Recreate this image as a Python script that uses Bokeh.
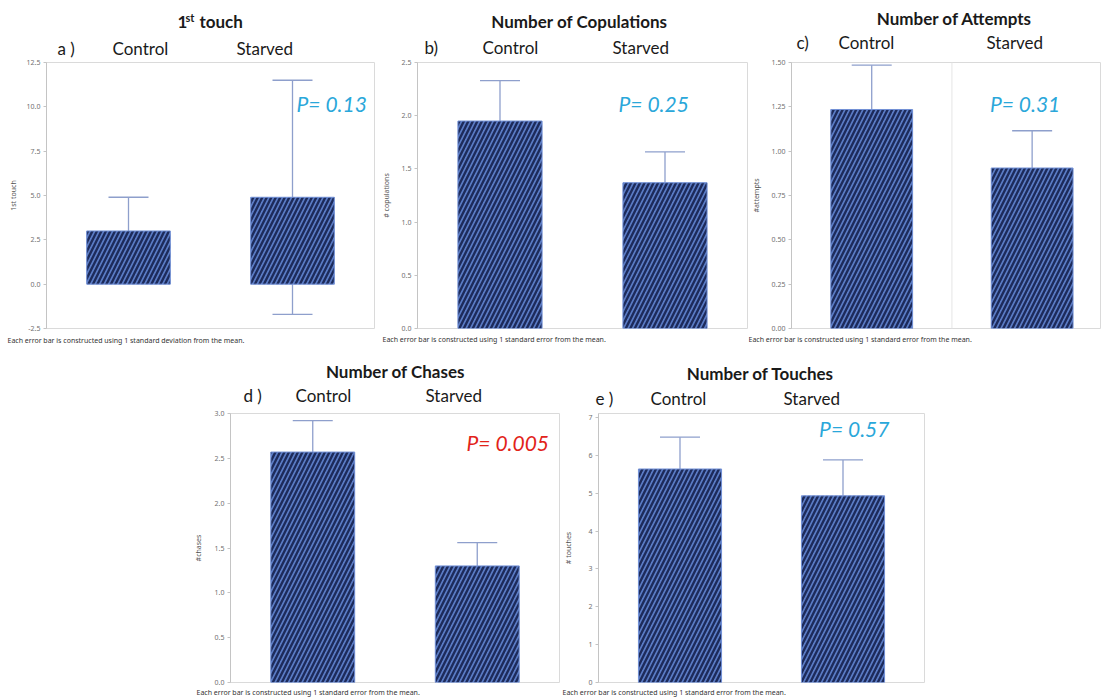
import math
from bokeh.plotting import figure
from bokeh.models import (ColumnDataSource, Range1d, FixedTicker, Label, Whisker,
                          TeeHead, Span, Spacer, PrintfTickFormatter)
from bokeh.layouts import row, column
from bokeh.embed import file_html
from bokeh.resources import INLINE

# ---------------- data ----------------
categories = ["Control", "Starved"]

first_touch_mean = [3.0, 4.9]
first_touch_err = [1.9, 6.6]      # 1 SD
copulations_mean = [1.95, 1.37]
copulations_err = [0.38, 0.29]    # 1 SE
attempts_mean = [1.235, 0.905]
attempts_err = [0.25, 0.21]
chases_mean = [2.57, 1.30]
chases_err = [0.35, 0.26]
touches_mean = [5.64, 4.93]
touches_err = [0.84, 0.95]

ticks_a = [-2.5, 0.0, 2.5, 5.0, 7.5, 10.0, 12.5]
ticks_b = [0.0, 0.5, 1.0, 1.5, 2.0, 2.5]
ticks_c = [0.0, 0.25, 0.5, 0.75, 1.0, 1.25, 1.5]
ticks_d = [0.0, 0.5, 1.0, 1.5, 2.0, 2.5, 3.0]
ticks_e = [0, 1, 2, 3, 4, 5, 6, 7]

titles = ["1st touch", "Number of Copulations", "Number of Attempts",
          "Number of Chases", "Number of Touches"]
panel_letters = ["a )", "b)", "c)", "d )", "e )"]
y_labels = ["1st touch", "# copulations", "#attempts", "#chases", "# touches"]
p_values = ["P= 0.13", "P= 0.25", "P= 0.31", "P= 0.005", "P= 0.57"]
foot_sd = "Each error bar is constructed using 1 standard deviation from the mean."
foot_se = "Each error bar is constructed using 1 standard error from the mean."

# ---------------- style ----------------
LABEL_FONT = "Lato"
SMALL_FONT = "Noto Sans"
BAR_FILL = "#5b7cc6"
BAR_HATCH = "#1d2b5b"
ERR_COLOR = "#8e9fcc"
CYAN = "#2aa7da"
RED = "#e2231a"
TXT = "#1a1a1a"


def text_fig(x0, x1, y0, y1, items):
    """A text-only strip covering page pixels x0..x1, y0..y1 (y grows downward;
    stored negated so that the range is increasing)."""
    p = figure(width=x1 - x0, height=y1 - y0, x_range=Range1d(x0, x1),
               y_range=Range1d(-y1, -y0), output_backend="svg", toolbar_location=None,
               min_border_left=0, min_border_right=0, min_border_top=0,
               min_border_bottom=0)
    p.axis.visible = False
    p.grid.visible = False
    p.outline_line_color = None
    p.background_fill_color = "white"
    p.border_fill_color = "white"
    for (px, py, text, font, size, style, color, align) in items:
        p.add_layout(Label(x=px, y=-py, text=text, text_font=font, text_font_size=size,
                           text_font_style=style, text_color=color, text_align=align,
                           text_baseline="middle"))
    return p


def chart_fig(x0, x1, y0, y1, frame, yr, x_end, ticks, fmt, means, errs,
              ylab, ylab_standoff, ptext, pxy, pcolor):
    fl, ft, fr, fb = frame
    p = figure(width=x1 - x0, height=y1 - y0, x_range=Range1d(0, x_end),
               y_range=Range1d(*yr), output_backend="svg", toolbar_location=None,
               min_border_left=fl - x0, min_border_right=x1 - fr,
               min_border_top=ft - y0, min_border_bottom=y1 - fb)
    p.background_fill_color = "white"
    p.border_fill_color = "white"
    p.outline_line_color = "#dadada"
    p.xaxis.visible = False
    p.xgrid.visible = False
    p.ygrid.visible = False
    ax = p.yaxis[0]
    ax.ticker = FixedTicker(ticks=ticks)
    ax.formatter = PrintfTickFormatter(format=fmt)
    ax.minor_tick_line_color = None
    ax.major_tick_out = 3
    ax.major_tick_in = 0
    ax.major_tick_line_color = "#c4c4c4"
    ax.axis_line_color = "#c4c4c4"
    ax.major_label_standoff = 3
    ax.major_label_text_font = SMALL_FONT
    ax.major_label_text_font_size = "7px"
    ax.major_label_text_color = "#707070"
    ax.axis_label = ylab
    ax.axis_label_text_font = SMALL_FONT
    ax.axis_label_text_font_size = "7px"
    ax.axis_label_text_font_style = "normal"
    ax.axis_label_text_color = "#555555"
    ax.axis_label_standoff = ylab_standoff

    def dx(px):
        return (px - fl) / (fr - fl) * x_end

    def dy(py):
        return yr[0] + (fb - py) / (fb - ft) * (yr[1] - yr[0])

    xs = [i + 0.5 for i in range(len(categories))]
    src = ColumnDataSource(dict(
        x=xs, cat=categories, top=means,
        upper=[m + e for m, e in zip(means, errs)],
        lower=[m - e for m, e in zip(means, errs)]))

    wk = Whisker(base="x", upper="upper", lower="lower", source=src, level="underlay",
                 line_color=ERR_COLOR, line_width=1.3,
                 upper_head=TeeHead(size=40, line_color=ERR_COLOR, line_width=1.3),
                 lower_head=TeeHead(size=40, line_color=ERR_COLOR, line_width=1.3))
    p.add_layout(wk)

    p.vbar(x="x", top="top", bottom=0, width=0.51, source=src,
           fill_color=BAR_FILL, line_color="#7391d6", line_width=1,
           hatch_pattern="/", hatch_color=BAR_HATCH, hatch_weight=2.4, hatch_scale=9)

    p.add_layout(Label(x=dx(pxy[0]), y=dy(pxy[1]), text=ptext, text_font=LABEL_FONT,
                       text_font_size="21px", text_font_style="italic",
                       text_color=pcolor, text_align="left", text_baseline="middle"))
    return p


def head_items(title, title_cx, title_cy, letter, lx, cx, sx, cat_cy):
    items = []
    if title is not None:
        items.append((title_cx, title_cy, title, LABEL_FONT, "17px", "bold", TXT,
                      "center"))
    items.append((lx, cat_cy, letter, LABEL_FONT, "17px", "normal", TXT, "left"))
    items.append((cx, cat_cy, categories[0], LABEL_FONT, "17px", "normal", TXT, "left"))
    items.append((sx, cat_cy, categories[1], LABEL_FONT, "17px", "normal", TXT, "left"))
    return items


def foot_items(x, y, text):
    return [(x, y, text, SMALL_FONT, "7px", "normal", "#333333", "left")]


# ---------------- top row: y 0..350 ----------------
H0, H1, C1, F1 = 0, 58, 334, 350
FR_T, FR_B = 62, 328
XA, XB, XC, XEND = 0, 375, 748, 1101

ha = head_items(None, 0, 0, panel_letters[0], 57, 112, 236, 47.5)
ha += [(177, 21, "1", LABEL_FONT, "17px", "bold", TXT, "left"),
       (185, 17, "st", LABEL_FONT, "11px", "bold", TXT, "left"),
       (199, 21, "touch", LABEL_FONT, "17px", "bold", TXT, "left")]
hb = head_items(titles[1], 579, 20.5, panel_letters[1], 424, 482, 612, 47)
hc = head_items(titles[2], 954, 17.5, panel_letters[2], 796, 838, 986, 42)

head_top = row(text_fig(XA, XB, H0, H1, ha), text_fig(XB, XC, H0, H1, hb),
               text_fig(XC, XEND, H0, H1, hc), spacing=0)

pa = chart_fig(XA, XB, H1, C1, (46, FR_T, 374, FR_B), (-2.5, 12.5), 2.0,
               ticks_a, "%.1f", first_touch_mean, first_touch_err, y_labels[0], 6,
               p_values[0], (296, 102.5), CYAN)
pb = chart_fig(XB, XC, H1, C1, (417, FR_T, 747, FR_B), (0, 2.5), 2.0,
               ticks_b, "%.1f", copulations_mean, copulations_err, y_labels[1], 8,
               p_values[1], (618, 102.5), CYAN)
pc = chart_fig(XC, XEND, H1, C1, (787, FR_T, XEND - 1, FR_B), (0, 1.5),
               (XEND - 1 - 787) / 162.5, ticks_c, "%.2f", attempts_mean, attempts_err,
               y_labels[2], 8, p_values[2], (988, 102.5), CYAN)
pc.add_layout(Span(location=1.0, dimension="height", line_color="#e6e6e6",
                   line_width=1, level="underlay"))
chart_top = row(pa, pb, pc, spacing=0)

foot_top = row(text_fig(XA, XB, C1, F1, foot_items(7, 340, foot_sd)),
               text_fig(XB, XC, C1, F1, foot_items(382, 339, foot_se)),
               text_fig(XC, XEND, C1, F1, foot_items(748, 339, foot_se)),
               spacing=0)

# ---------------- bottom row: y 350..697 ----------------
BH0, BH1, BC1, BF1 = 350, 409, 686, 697
FR_T2, FR_B2 = 413, 682
XD, XE, XE1 = 190, 561, 926

hd = head_items(titles[3], 395, 370.5, panel_letters[3], 243, 295, 425, 394.5)
he = head_items(titles[4], 760, 372.5, panel_letters[4], 595, 650, 783, 397.5)
head_bot = row(Spacer(width=XD, height=BH1 - BH0), text_fig(XD, XE, BH0, BH1, hd),
               text_fig(XE, XE1, BH0, BH1, he), spacing=0)

pd_ = chart_fig(XD, XE, BH1, BC1, (230, FR_T2, 559, FR_B2), (0, 3.0), 2.0,
                ticks_d, "%.1f", chases_mean, chases_err, y_labels[3], 9,
                p_values[3], (466, 442), RED)
pe = chart_fig(XE, XE1, BH1, BC1, (593, FR_T2, 924, FR_B2),
               (0, 7 * (FR_B2 - FR_T2) / (682 - 417)), 2.0,
               ticks_e, "%d", touches_mean, touches_err, y_labels[4], 12,
               p_values[4], (817, 427.5), CYAN)
chart_bot = row(Spacer(width=XD, height=BC1 - BH1), pd_, pe, spacing=0)

foot_bot = row(Spacer(width=XD, height=BF1 - BC1),
               text_fig(XD, XE, BC1, BF1, foot_items(196, 691, foot_se)),
               text_fig(XE, XE1, BC1, BF1, foot_items(562, 691, foot_se)),
               spacing=0)

layout = column(head_top, chart_top, foot_top, head_bot, chart_bot, foot_bot, spacing=0)

open("out.html", "w").write(file_html(layout, INLINE))
